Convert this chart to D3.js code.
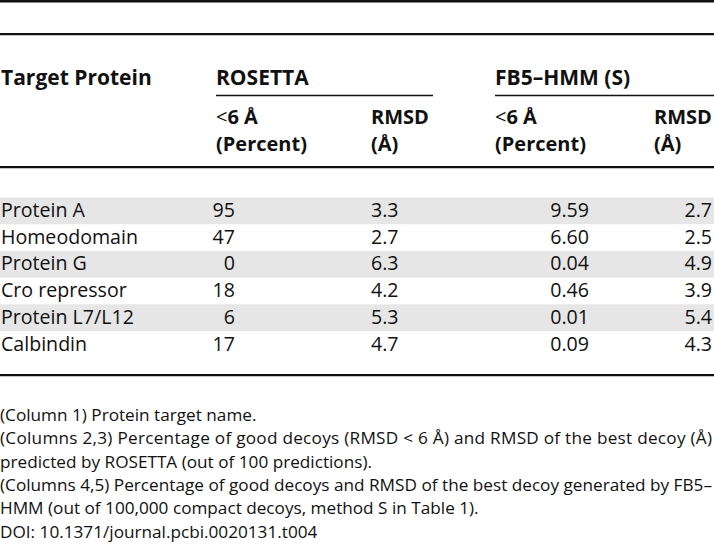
<!DOCTYPE html>
<html lang="en">

<head>
    <meta charset="UTF-8">
    <script src="https://d3js.org/d3.v7.min.js"></script>
    <title>Table</title>
    <style>
        body { margin: 0; background: #fff; }
        text { font-family: "Open Sans", "Noto Sans", sans-serif; fill: #111; }
    </style>
</head>

<body>
    <div id="table"></div>
    <script>
        const width = 714;
        const height = 548;

        // data
        const proteins = ["Protein A", "Homeodomain", "Protein G", "Cro repressor", "Protein L7/L12", "Calbindin"];
        const rosettaPct = [95, 47, 0, 18, 6, 17];
        const rosettaRmsd = [3.3, 2.7, 6.3, 4.2, 5.3, 4.7];
        const fbPct = [9.59, 6.60, 0.04, 0.46, 0.01, 0.09];
        const fbRmsd = [2.7, 2.5, 4.9, 3.9, 5.4, 4.3];

        const groupHeaders = ["ROSETTA", "FB5\u2013HMM (S)"];
        const notes = [
            "(Column 1) Protein target name.",
            "(Columns 2,3) Percentage of good decoys (RMSD < 6 \u00c5) and RMSD of the best decoy (\u00c5)",
            "predicted by ROSETTA (out of 100 predictions).",
            "(Columns 4,5) Percentage of good decoys and RMSD of the best decoy generated by FB5\u2013",
            "HMM (out of 100,000 compact decoys, method S in Table 1).",
            "DOI: 10.1371/journal.pcbi.0020131.t004"
        ];
        // lines that continue on the next line are justified
        const justified = [false, true, false, true, false, false];

        const svg = d3.select("#table")
            .append("svg")
            .attr("width", width)
            .attr("height", height);

        // row layout
        const y = d3.scaleBand()
            .domain(proteins)
            .range([197.5, 357.7])
            .padding(0);

        const rows = proteins.map((p, i) => ({
            name: p,
            rp: rosettaPct[i],
            rr: rosettaRmsd[i],
            fp: fbPct[i],
            fr: fbRmsd[i]
        }));

        // horizontal rules
        const rule = (x1, x2, yy, w) => svg.append("line")
            .attr("x1", x1).attr("x2", x2)
            .attr("y1", yy).attr("y2", yy)
            .attr("stroke", "#111")
            .attr("stroke-width", w);

        rule(0, width, 1.2, 2.6);
        rule(0, width, 34.2, 2.2);
        rule(216, 433, 95.5, 1.6);
        rule(495, width, 95.5, 1.6);
        rule(0, width, 167.2, 2.2);
        rule(0, width, 375.2, 2.2);

        // header
        const head = svg.append("g")
            .style("font-weight", "bold")
            .style("font-size", "21px");

        head.append("text").attr("x", 1).attr("y", 85).text("Target Protein");
        head.selectAll(".grp")
            .data(groupHeaders)
            .enter()
            .append("text")
            .attr("class", "grp")
            .attr("x", (d, i) => [216, 495][i])
            .attr("y", 85)
            .text(d => d);

        const sub = svg.append("g")
            .style("font-weight", "bold")
            .style("font-size", "20px");
        const subX = [216, 371, 495, 654];
        subX.forEach((sx, i) => {
            if (i % 2 === 0) {
                const t = sub.append("text").attr("x", sx).attr("y", 124);
                t.append("tspan").style("font-weight", "normal").text("<");
                t.append("tspan").text("6 \u00c5");
                sub.append("text").attr("x", sx).attr("y", 151).text("(Percent)");
            } else {
                sub.append("text").attr("x", sx).attr("y", 124).text("RMSD");
                sub.append("text").attr("x", sx).attr("y", 151).text("(\u00c5)");
            }
        });

        // body rows
        const body = svg.append("g").style("font-size", "19.6px");

        body.selectAll("rect")
            .data(rows)
            .enter()
            .append("rect")
            .attr("x", 0)
            .attr("y", d => y(d.name))
            .attr("width", width)
            .attr("height", y.bandwidth())
            .attr("fill", (d, i) => i % 2 === 0 ? "#e6e6e6" : "none");

        const cols = [
            { key: "name", x: 1, anchor: "start", fmt: d => d },
            { key: "rp", x: 235, anchor: "end", fmt: d3.format("d") },
            { key: "rr", x: 371, anchor: "start", fmt: d3.format(".1f") },
            { key: "fp", x: 589, anchor: "end", fmt: d3.format(".2f") },
            { key: "fr", x: 712, anchor: "end", fmt: d3.format(".1f") }
        ];

        cols.forEach(c => {
            body.selectAll(".c-" + c.key)
                .data(rows)
                .enter()
                .append("text")
                .attr("class", "c-" + c.key)
                .attr("x", c.x)
                .attr("y", d => y(d.name) + 19.5)
                .attr("text-anchor", c.anchor)
                .text(d => c.fmt(d[c.key]));
        });

        // footnotes
        const foot = svg.append("g").style("font-size", "17px");
        const noteLines = foot.selectAll("text")
            .data(notes)
            .enter()
            .append("text")
            .attr("x", 0)
            .attr("y", (d, i) => 421 + i * 23.3)
            .text(d => d);

        // fit the widest note line to the page width, justify wrapped lines
        const widest = d3.max(noteLines.nodes(), n => n.getComputedTextLength());
        foot.style("font-size", (17 * 712 / widest) + "px");
        noteLines.filter((d, i) => justified[i])
            .attr("textLength", 712)
            .attr("lengthAdjust", "spacing");
    </script>
</body>

</html>
